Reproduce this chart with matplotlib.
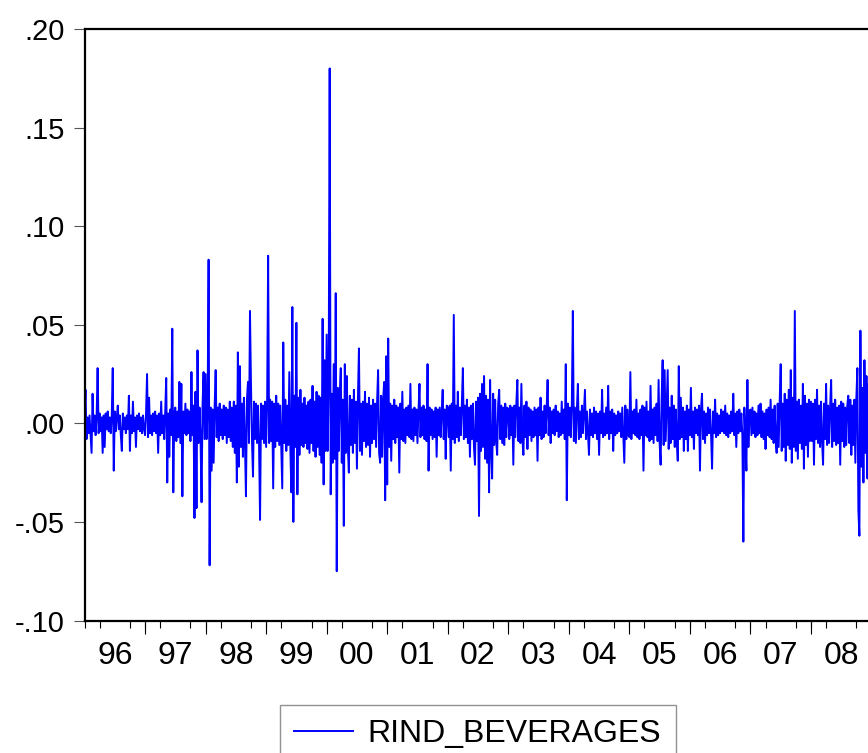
import numpy as np
import matplotlib
matplotlib.use("Agg")
import matplotlib.pyplot as plt

plt.rcParams['font.family'] = ['Liberation Sans', 'DejaVu Sans']

# ------ daily returns (units of 0.001), 60 samples per year ------
r1996 = [4, 17, -8, 3, -5, 4, -6, -15, 15, -4, 4, -6, 3, 28, -5, 5, -4, 3, -15, 4,
         -12, 5, -3, 6, -4, 3, -5, 4, 28, -24, 6, -4, 3, 9, -3, 4, -6, -14, 5, -3,
         3, -5, 4, -3, 14, -14, 4, -5, 11, -4, 3, -12, 4, -3, 5, -4, 3, -5, 4, -3]
r1997 = [-6, 5, 25, -7, 13, -5, 4, -6, 5, -4, 6, -5, 4, -15, 5, -6, 11, -5, 4, -8,
         6, 23, -30, 5, -17, 7, -6, 48, -35, 5, 8, -9, 6, -7, 21, -10, 20, -37, 6, -5,
         10, -6, 7, -5, 6, -9, 26, -6, 9, -48, 16, -43, 37, -10, 8, -7, -40, 9, 26, -8]
r1998 = [25, -8, 9, 83, -72, 8, -24, 7, -20, 9, 27, -7, 8, -9, 10, -6, 7, -8, 9, -6,
         8, -10, 7, -7, 11, -9, 8, -12, 11, -15, 9, -30, 36, -22, 29, -12, 10, -17, 13, -9,
         -37, 12, 21, -10, 57, 20, -9, -27, 11, -8, 10, -10, 9, -11, -49, 10, -8, 9, -10, 11]
r1999 = [-12, 10, 85, -10, 12, -9, 11, -33, 10, -12, 14, -9, 10, -11, 9, -13, -33, 41, -10, 12,
         -14, 9, -11, 26, -12, -35, 59, -50, 14, -12, 51, -36, 13, -16, 17, -11, 10, -12, 13, -10,
         9, -13, 11, -15, 12, -10, 19, -14, 11, -17, 16, -12, 14, -16, 13, -20, 53, -31, 32, -14]
r2000 = [45, -14, 20, 180, -36, 15, -20, 30, -18, 66, -75, 18, -14, 15, 28, -20, 12, -52, 30, -15,
         24, -12, -25, 14, -11, 12, -15, 17, -10, 11, -23, 13, 38, -14, 10, -16, 11, -9, 16, -12,
         10, -11, 13, -17, 9, -10, 12, -8, 10, -12, 11, 27, -15, -20, 14, -17, 12, 21, -39, 34]
r2001 = [-31, 43, -12, 10, -19, 9, -8, 12, -10, 9, -7, 8, -25, 10, -8, 16, -9, 7, -10, 8,
         -6, 9, -7, 20, -8, 7, -9, 8, -6, 7, -10, 6, 20, -7, 8, -6, 9, -8, 7, -9,
         30, -24, 8, -6, 7, -8, 6, -7, 8, -17, 7, -6, 8, -7, 6, 17, -8, 7, -18, 9]
r2002 = [8, -7, 9, -24, 10, -8, 55, -10, 9, -7, 16, -9, 8, -6, 10, 28, -8, 9, -7, 12,
         -10, 8, -17, 9, -8, 10, -12, -21, 11, -9, 13, -47, 15, -14, 20, -12, 24, -18, 14, -20,
         12, -35, 22, -13, -28, 15, -11, 12, -9, -16, 10, 17, -8, 9, -10, 8, -11, 10, -7, 8]
r2003 = [7, -8, 9, -6, 8, -21, 9, -7, 10, 22, -9, 8, -10, 20, -8, -16, 9, -7, 11, -13,
         8, -6, 7, -9, 6, -7, 8, -6, 7, -19, 8, -6, 13, -8, 6, -7, 9, -5, 7, 22,
         -6, 8, -10, 6, -5, 7, -6, 9, -4, 6, -7, 5, -6, 11, -5, 7, -8, 30, -39, 10]
r2004 = [-6, 8, -7, 10, 57, -9, 8, -10, 7, 20, -8, 6, -7, 9, -5, 6, 17, -8, 6, -5,
         -16, 7, -6, 5, -7, 8, -5, 6, -8, 5, -16, 6, -5, 17, -7, 5, -6, 8, -5, 19,
         -8, 6, -5, 7, -14, 5, -6, 4, -5, 6, -4, 5, -7, 8, -6, -20, 9, -8, 7, -6]
r2005 = [-7, 26, -8, 6, -5, 7, -6, 12, -7, 5, -8, 7, -6, 9, -24, 8, -6, 11, -7, 6,
         -9, 19, -8, 7, -10, 8, -6, 10, -9, 22, -10, -21, 12, 32, -11, 27, -9, 10, 27, -13,
         8, -10, 14, -8, 9, -12, 7, -9, -19, 29, -8, 13, -7, 8, -14, 6, -8, 9, -14, 7]
r2006 = [-6, 18, -7, 6, -13, 8, -5, 7, -6, 9, -24, 7, 15, -8, 6, -10, 5, -6, 8, -5,
         7, -6, -23, 6, -5, 12, -7, 5, -6, 4, -5, 7, -4, 6, -5, 9, -6, 5, -7, 4,
         -5, 6, -4, 15, -6, 5, -12, 6, -5, 7, -4, 5, -6, -60, 8, -7, -24, 22, -12, 6]
r2007 = [7, -6, 8, -5, 6, -7, 5, -6, 9, -5, 10, -7, 6, -8, 5, -13, 7, -6, 8, -7,
         12, -8, 7, -10, 9, -8, -15, 10, -12, 11, 30, -14, 10, -12, 15, -19, 12, -11, 17, -13,
         27, -20, 13, -12, 57, -14, 11, -18, 12, -10, 9, -13, 20, -23, 14, -11, 10, -17, 12, -9]
r2008 = [11, -9, 10, -21, 12, -8, 17, -10, 9, -12, 11, -9, -21, 10, -8, 20, -11, 9, -10, 8,
         22, -12, 10, -9, 12, -11, 8, -10, 9, -21, 11, -9, 10, -12, 8, -11, 9, 14, -10, 12,
         -16, 9, -11, 12, -20, 13, 28, -44, -57, 47, -22, 18, -30, 32, -15, 24, -28, 20, -18, 15]

years = list(range(1996, 2009))
yearly = [r1996, r1997, r1998, r1999, r2000, r2001, r2002,
          r2003, r2004, r2005, r2006, r2007, r2008]
year_labels = ['96', '97', '98', '99', '00', '01', '02', '03', '04', '05', '06', '07', '08']
y_ticks = [-0.10, -0.05, 0.00, 0.05, 0.10, 0.15, 0.20]
y_labels = ['-.10', '-.05', '.00', '.05', '.10', '.15', '.20']

t = []
vals = []
for yr, v in zip(years, yearly):
    n = len(v)
    t += [yr + i / n for i in range(n)]
    vals += [x / 1000 for x in v]

W, H = 868, 753
fig = plt.figure(figsize=(W / 100, H / 100), dpi=100)
ax = fig.add_axes([84.5 / W, 1 - 620.5 / H, (871.5 - 84.5) / W, (620.5 - 29) / H])

line, = ax.plot(t, vals, color='#0000ff', lw=1.4, label='RIND_BEVERAGES')

ax.set_xlim(1996, 2009)
ax.set_ylim(-0.10, 0.20)

for s in ['left', 'bottom', 'top', 'right']:
    ax.spines[s].set_linewidth(1.6)
    ax.spines[s].set_color('black')

ax.set_yticks(y_ticks, labels=y_labels)
ax.tick_params(axis='y', length=8, width=0.8, color='#555555', pad=6, labelsize=21)

# year labels centred in each year, quarter ticks, longer ticks at year starts
ax.set_xticks([y + 0.5 for y in years], labels=year_labels)
ax.tick_params(axis='x', which='major', length=0, pad=15, labelsize=23)
ax.set_xticks(np.arange(1996, 2009.01, 0.25), minor=True)
ax.tick_params(axis='x', which='minor', length=5, width=0.8, color='black')
sec = ax.secondary_xaxis('bottom')
sec.set_xticks(years[1:])
sec.tick_params(length=9.5, width=0.8, color='black', labelbottom=False)
sec.spines['bottom'].set_visible(False)

fig.legend(handles=[line], loc='upper left', bbox_to_anchor=(280 / W, 1 - 705 / H),
           fontsize=23, frameon=True, fancybox=False, edgecolor='#777777',
           handlelength=1.85, handletextpad=0.45, borderpad=0.45, borderaxespad=0)
fig.legends[0].get_frame().set_linewidth(1.0)

fig.savefig('out.png', dpi=100)
